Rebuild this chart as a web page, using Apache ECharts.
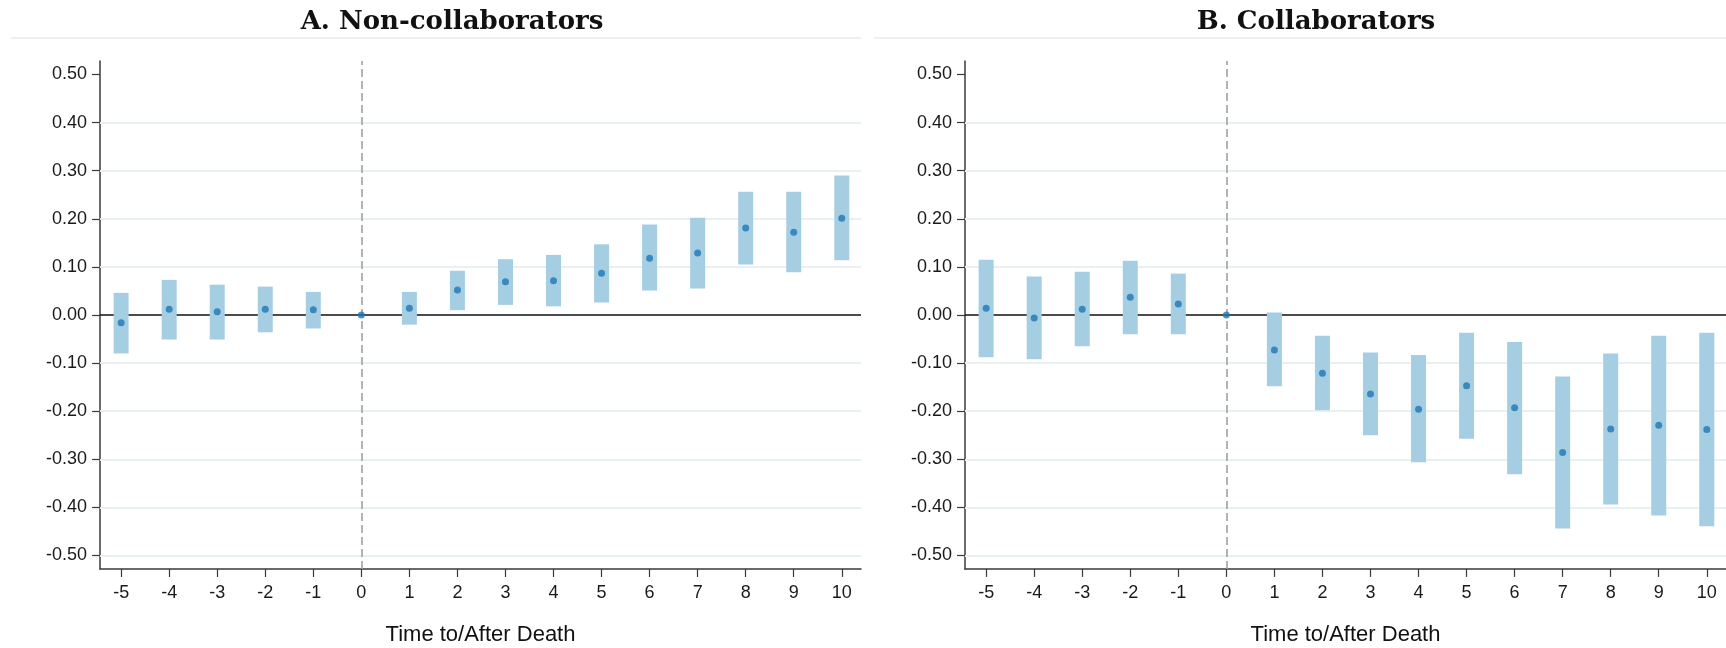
<!DOCTYPE html>
<html>
<head>
<meta charset="utf-8">
<script src="https://cdn.jsdelivr.net/npm/echarts@6/dist/echarts.min.js"></script>
<style>
  html, body { margin: 0; padding: 0; background: #fff; }
  #chart { width: 1726px; height: 648px; }
</style>
</head>
<body>
<div id="chart"></div>
<script>
// ---- data ----
const periods = [-5, -4, -3, -2, -1, 0, 1, 2, 3, 4, 5, 6, 7, 8, 9, 10];

// Panel A: Non-collaborators
const ncEst = [-0.016, 0.012, 0.007, 0.012, 0.011, 0, 0.014, 0.052, 0.069, 0.071, 0.087, 0.118, 0.129, 0.181, 0.172, 0.201];
const ncLo  = [-0.080, -0.051, -0.051, -0.036, -0.028, null, -0.020, 0.010, 0.021, 0.018, 0.026, 0.051, 0.055, 0.105, 0.089, 0.114];
const ncHi  = [0.046, 0.073, 0.063, 0.059, 0.048, null, 0.048, 0.092, 0.116, 0.125, 0.147, 0.188, 0.202, 0.256, 0.256, 0.290];

// Panel B: Collaborators
const coEst = [0.014, -0.006, 0.012, 0.037, 0.023, 0, -0.073, -0.121, -0.164, -0.196, -0.147, -0.193, -0.286, -0.237, -0.229, -0.238];
const coLo  = [-0.088, -0.092, -0.065, -0.040, -0.040, null, -0.148, -0.198, -0.250, -0.306, -0.257, -0.331, -0.444, -0.394, -0.417, -0.439];
const coHi  = [0.115, 0.080, 0.090, 0.113, 0.086, null, 0.005, -0.043, -0.078, -0.083, -0.037, -0.056, -0.128, -0.080, -0.043, -0.037];

const yTicks = [-0.5, -0.4, -0.3, -0.2, -0.1, 0, 0.1, 0.2, 0.3, 0.4, 0.5];
const xTicks = [-5, -4, -3, -2, -1, 0, 1, 2, 3, 4, 5, 6, 7, 8, 9, 10];
const gridValues = [-0.5, -0.4, -0.3, -0.2, -0.1, 0.1, 0.2, 0.3, 0.4];
const titles = ['A. Non-collaborators', 'B. Collaborators'];
const xName = 'Time to/After Death';

// ---- styling ----
const BAR = '#a6cee3';
const DOT = '#1f78b4';
const AXIS = '#3a3a3a';
const GRIDC = '#e8f0f2';
const LABEL_FONT = 'Liberation Sans';

const panels = [
  { est: ncEst, lo: ncLo, hi: ncHi, left: 100, titleX: 452, lineX: [11, 861] },
  { est: coEst, lo: coLo, hi: coHi, left: 965, titleX: 1316, lineX: [874, 1726] }
];

const grids = [], xAxes = [], yAxes = [], series = [], graphics = [];

panels.forEach((p, i) => {
  grids.push({ left: p.left, top: 61, width: 761, height: 508, containLabel: false, outerBoundsMode: 'none' });
  xAxes.push({
    type: 'value', gridIndex: i, min: -5.44, max: 10.4,
    axisLine: { show: true, onZero: false, lineStyle: { color: AXIS, width: 1.5 } },
    axisTick: { show: true, length: 8, customValues: xTicks, lineStyle: { color: AXIS, width: 1.2 } },
    axisLabel: { customValues: xTicks, margin: 15, fontFamily: LABEL_FONT, fontSize: 18, color: '#1a1a1a',
                 formatter: v => String(v) },
    splitLine: { show: false },
    name: xName, nameLocation: 'middle', nameGap: 55,
    nameTextStyle: { fontFamily: LABEL_FONT, fontSize: 22, color: '#111' }
  });
  yAxes.push({
    type: 'value', gridIndex: i, min: -0.528, max: 0.528,
    axisLine: { show: true, onZero: false, lineStyle: { color: AXIS, width: 1.5 } },
    axisTick: { show: true, length: 8, customValues: yTicks, lineStyle: { color: AXIS, width: 1.2 } },
    axisLabel: { customValues: yTicks, margin: 13, fontFamily: LABEL_FONT, fontSize: 18, color: '#1a1a1a',
                 formatter: v => v.toFixed(2) },
    splitLine: { show: false }
  });

  const ciData = [];
  periods.forEach((t, k) => {
    if (p.lo[k] !== null && p.hi[k] !== null) ciData.push([t, p.lo[k], p.hi[k]]);
  });

  const markData = gridValues.map(v => ({ yAxis: v, lineStyle: { color: GRIDC, width: 1.8, type: 'solid' } }));
  markData.push({ xAxis: 0, lineStyle: { color: '#9a9a9a', width: 1.5, type: [8, 4] } });
  markData.push({ yAxis: 0, lineStyle: { color: '#111', width: 1.5, type: 'solid' } });

  series.push({
    type: 'custom', xAxisIndex: i, yAxisIndex: i, z: 3, animation: false, silent: true,
    encode: { x: 0, y: [1, 2] },
    data: ciData,
    renderItem: (params, api) => {
      const x = api.value(0), lo = api.value(1), hi = api.value(2);
      const top = api.coord([x, hi]);
      const bot = api.coord([x, lo]);
      const w = 15;
      return {
        type: 'rect',
        shape: { x: top[0] - w / 2, y: top[1], width: w, height: bot[1] - top[1] },
        style: { fill: BAR }
      };
    },
    markLine: {
      silent: true, symbol: 'none', z: 1, animation: false,
      label: { show: false },
      data: markData
    }
  });

  series.push({
    type: 'scatter', xAxisIndex: i, yAxisIndex: i, z: 5, animation: false, silent: true,
    symbol: 'circle', symbolSize: 7,
    itemStyle: { color: DOT },
    data: periods.map((t, k) => [t, p.est[k]])
  });

  graphics.push({
    type: 'text', x: p.titleX, y: 9, silent: true,
    style: { text: titles[i], x: 0, y: 0, textAlign: 'center', textVerticalAlign: 'top',
             font: 'bold 26px "DejaVu Serif"', fill: '#111' }
  });
  graphics.push({
    type: 'line', silent: true,
    shape: { x1: p.lineX[0], y1: 38, x2: p.lineX[1], y2: 38 },
    style: { stroke: '#e4ecec', lineWidth: 1.5 }
  });
});

const chart = echarts.init(document.getElementById('chart'), null, { renderer: 'canvas' });
chart.setOption({
  animation: false,
  backgroundColor: '#ffffff',
  grid: grids,
  xAxis: xAxes,
  yAxis: yAxes,
  series: series,
  graphic: graphics
});
</script>
</body>
</html>
